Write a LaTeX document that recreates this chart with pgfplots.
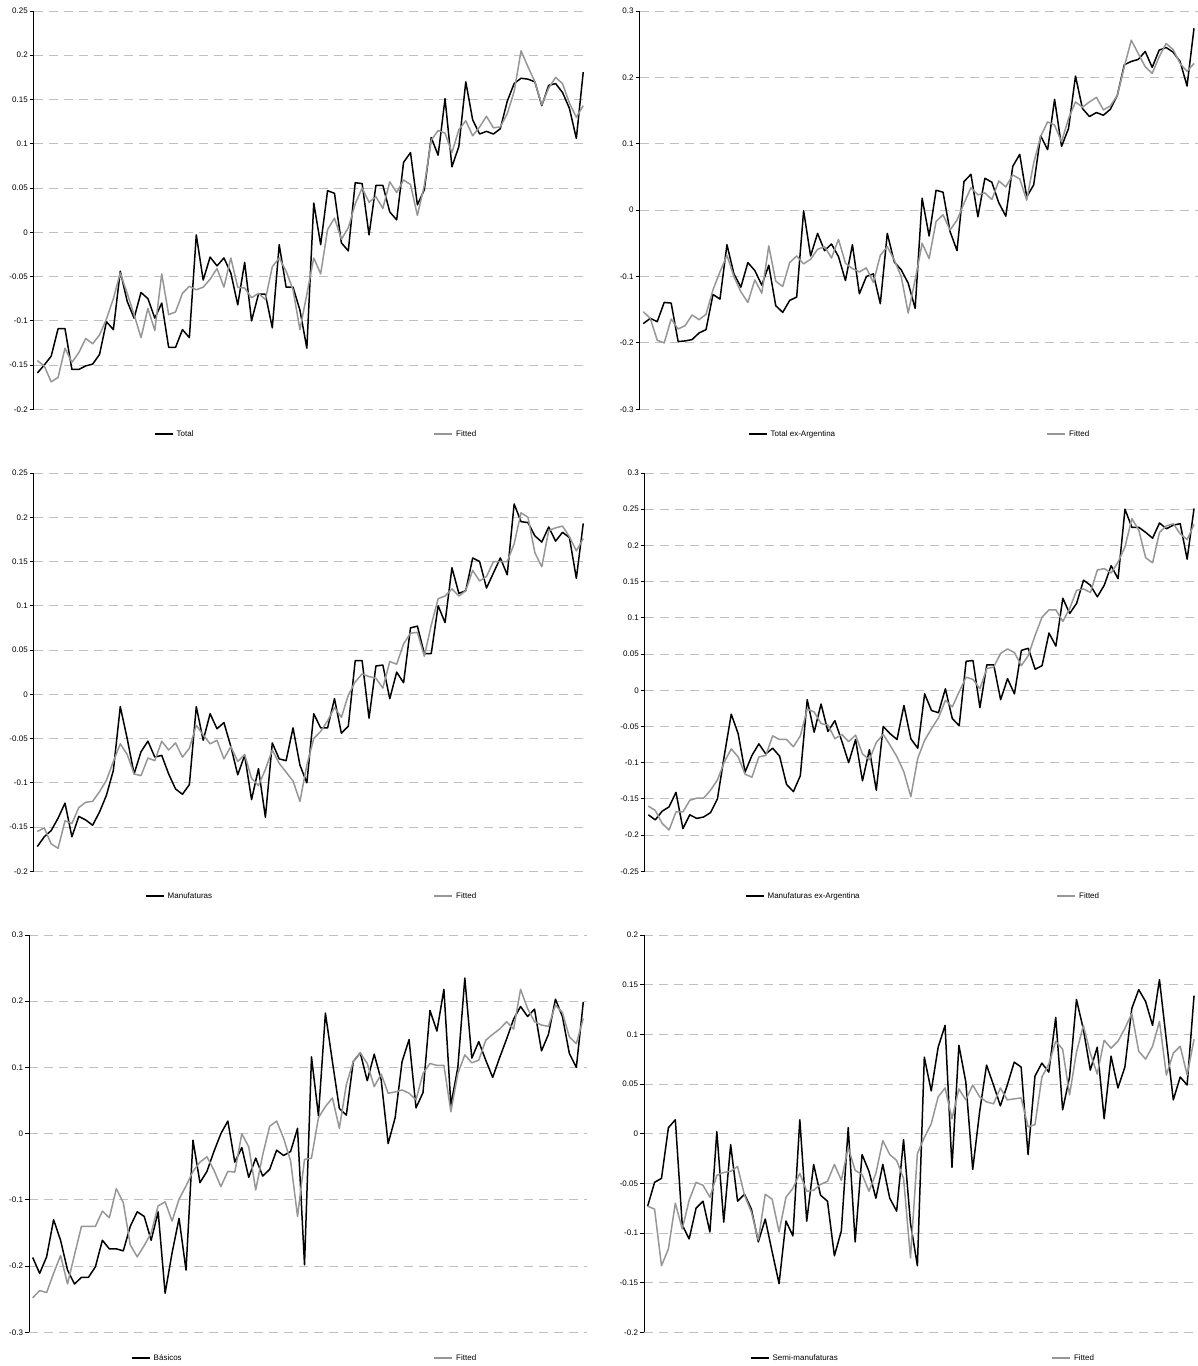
\documentclass[border=0pt]{standalone}
\usepackage{fontspec}
\setmainfont{Liberation Sans}
\usepackage{pgfplots}
\usepackage{pgfplotstable}
\pgfplotsset{compat=1.18}

\definecolor{fitgray}{RGB}{150,150,150}
\definecolor{gridgray}{RGB}{192,192,192}

% ---------- series (quarterly, 80 observations each) ----------
\pgfplotstableread[header=false,row sep=\\]{
-0.159\\-0.150\\-0.140\\-0.109\\-0.109\\-0.155\\-0.155\\-0.151\\-0.149\\-0.138\\
-0.101\\-0.110\\-0.044\\-0.078\\-0.097\\-0.068\\-0.075\\-0.097\\-0.080\\-0.130\\
-0.130\\-0.110\\-0.119\\-0.003\\-0.054\\-0.028\\-0.038\\-0.029\\-0.046\\-0.082\\
-0.034\\-0.100\\-0.070\\-0.070\\-0.108\\-0.014\\-0.062\\-0.062\\-0.088\\-0.131\\
0.033\\-0.014\\0.047\\0.044\\-0.012\\-0.021\\0.056\\0.055\\-0.003\\0.053\\
0.053\\0.023\\0.014\\0.079\\0.090\\0.031\\0.048\\0.107\\0.087\\0.151\\
0.074\\0.097\\0.170\\0.127\\0.111\\0.114\\0.111\\0.117\\0.148\\0.168\\
0.174\\0.173\\0.170\\0.143\\0.166\\0.168\\0.158\\0.140\\0.106\\0.181\\
}\totA
\pgfplotstableread[header=false,row sep=\\]{
-0.145\\-0.151\\-0.169\\-0.164\\-0.131\\-0.147\\-0.136\\-0.120\\-0.126\\-0.116\\
-0.098\\-0.075\\-0.046\\-0.069\\-0.093\\-0.119\\-0.086\\-0.111\\-0.047\\-0.093\\
-0.090\\-0.069\\-0.061\\-0.065\\-0.062\\-0.053\\-0.041\\-0.062\\-0.029\\-0.062\\
-0.063\\-0.074\\-0.069\\-0.076\\-0.039\\-0.029\\-0.044\\-0.065\\-0.110\\-0.070\\
-0.029\\-0.047\\0.003\\0.016\\-0.008\\0.005\\0.032\\0.050\\0.034\\0.040\\
0.027\\0.057\\0.045\\0.059\\0.054\\0.019\\0.053\\0.104\\0.115\\0.112\\
0.090\\0.116\\0.126\\0.109\\0.119\\0.131\\0.118\\0.119\\0.134\\0.159\\
0.205\\0.187\\0.170\\0.144\\0.163\\0.175\\0.168\\0.146\\0.130\\0.143\\
}\totF
\pgfplotstableread[header=false,row sep=\\]{
-0.171\\-0.163\\-0.168\\-0.139\\-0.140\\-0.198\\-0.197\\-0.195\\-0.185\\-0.180\\
-0.127\\-0.134\\-0.052\\-0.096\\-0.116\\-0.079\\-0.091\\-0.113\\-0.083\\-0.144\\
-0.154\\-0.136\\-0.131\\-0.001\\-0.069\\-0.035\\-0.061\\-0.051\\-0.070\\-0.106\\
-0.052\\-0.126\\-0.100\\-0.096\\-0.141\\-0.035\\-0.078\\-0.090\\-0.110\\-0.148\\
0.018\\-0.039\\0.030\\0.027\\-0.032\\-0.061\\0.043\\0.054\\-0.010\\0.048\\
0.042\\0.011\\-0.009\\0.066\\0.084\\0.020\\0.038\\0.112\\0.091\\0.167\\
0.096\\0.123\\0.202\\0.153\\0.141\\0.147\\0.143\\0.152\\0.173\\0.219\\
0.224\\0.227\\0.239\\0.215\\0.241\\0.245\\0.238\\0.224\\0.187\\0.274\\
}\exaA
\pgfplotstableread[header=false,row sep=\\]{
-0.153\\-0.163\\-0.196\\-0.200\\-0.164\\-0.179\\-0.174\\-0.158\\-0.165\\-0.157\\
-0.120\\-0.093\\-0.068\\-0.100\\-0.123\\-0.139\\-0.105\\-0.125\\-0.054\\-0.107\\
-0.115\\-0.079\\-0.069\\-0.081\\-0.074\\-0.059\\-0.055\\-0.072\\-0.044\\-0.080\\
-0.088\\-0.093\\-0.087\\-0.109\\-0.068\\-0.055\\-0.075\\-0.100\\-0.155\\-0.105\\
-0.050\\-0.073\\-0.017\\-0.007\\-0.030\\-0.015\\0.010\\0.034\\0.023\\0.026\\
0.016\\0.044\\0.035\\0.053\\0.047\\0.015\\0.071\\0.111\\0.133\\0.128\\
0.103\\0.138\\0.163\\0.155\\0.163\\0.170\\0.151\\0.157\\0.173\\0.216\\
0.256\\0.236\\0.216\\0.206\\0.231\\0.251\\0.242\\0.221\\0.209\\0.221\\
}\exaF
\pgfplotstableread[header=false,row sep=\\]{
-0.172\\-0.161\\-0.154\\-0.140\\-0.123\\-0.161\\-0.138\\-0.142\\-0.148\\-0.133\\
-0.114\\-0.086\\-0.014\\-0.050\\-0.090\\-0.065\\-0.053\\-0.071\\-0.069\\-0.090\\
-0.107\\-0.113\\-0.102\\-0.014\\-0.052\\-0.022\\-0.039\\-0.032\\-0.059\\-0.091\\
-0.069\\-0.119\\-0.084\\-0.139\\-0.055\\-0.073\\-0.075\\-0.038\\-0.080\\-0.100\\
-0.022\\-0.038\\-0.038\\-0.005\\-0.044\\-0.036\\0.038\\0.038\\-0.027\\0.032\\
0.033\\-0.005\\0.025\\0.013\\0.075\\0.077\\0.046\\0.046\\0.100\\0.081\\
0.143\\0.114\\0.117\\0.154\\0.150\\0.120\\0.137\\0.154\\0.135\\0.215\\
0.195\\0.194\\0.179\\0.172\\0.189\\0.173\\0.183\\0.177\\0.131\\0.193\\
}\manA
\pgfplotstableread[header=false,row sep=\\]{
-0.155\\-0.151\\-0.169\\-0.174\\-0.143\\-0.146\\-0.128\\-0.122\\-0.121\\-0.110\\
-0.097\\-0.076\\-0.056\\-0.068\\-0.090\\-0.092\\-0.072\\-0.075\\-0.053\\-0.063\\
-0.055\\-0.071\\-0.061\\-0.035\\-0.046\\-0.056\\-0.052\\-0.073\\-0.059\\-0.076\\
-0.068\\-0.095\\-0.103\\-0.085\\-0.063\\-0.078\\-0.088\\-0.098\\-0.121\\-0.080\\
-0.050\\-0.042\\-0.030\\-0.015\\-0.026\\-0.001\\0.014\\0.023\\0.020\\0.018\\
0.007\\0.037\\0.034\\0.057\\0.069\\0.070\\0.043\\0.078\\0.108\\0.111\\
0.119\\0.111\\0.117\\0.140\\0.128\\0.133\\0.150\\0.150\\0.150\\0.170\\
0.205\\0.200\\0.160\\0.144\\0.185\\0.188\\0.190\\0.178\\0.162\\0.176\\
}\manF
\pgfplotstableread[header=false,row sep=\\]{
-0.172\\-0.179\\-0.167\\-0.161\\-0.141\\-0.191\\-0.172\\-0.177\\-0.175\\-0.169\\
-0.150\\-0.090\\-0.033\\-0.060\\-0.113\\-0.090\\-0.074\\-0.088\\-0.080\\-0.091\\
-0.130\\-0.140\\-0.118\\-0.013\\-0.058\\-0.019\\-0.057\\-0.042\\-0.070\\-0.100\\
-0.068\\-0.125\\-0.082\\-0.138\\-0.050\\-0.060\\-0.068\\-0.021\\-0.067\\-0.080\\
-0.005\\-0.028\\-0.031\\0.002\\-0.039\\-0.049\\0.040\\0.041\\-0.024\\0.035\\
0.035\\-0.013\\0.016\\-0.005\\0.055\\0.058\\0.029\\0.034\\0.079\\0.061\\
0.127\\0.106\\0.120\\0.152\\0.145\\0.129\\0.145\\0.172\\0.154\\0.250\\
0.225\\0.225\\0.218\\0.210\\0.231\\0.223\\0.228\\0.230\\0.181\\0.251\\
}\mexA
\pgfplotstableread[header=false,row sep=\\]{
-0.160\\-0.166\\-0.184\\-0.193\\-0.168\\-0.168\\-0.152\\-0.149\\-0.149\\-0.138\\
-0.124\\-0.099\\-0.081\\-0.092\\-0.116\\-0.120\\-0.092\\-0.090\\-0.063\\-0.068\\
-0.068\\-0.078\\-0.063\\-0.026\\-0.030\\-0.046\\-0.048\\-0.067\\-0.061\\-0.071\\
-0.062\\-0.088\\-0.096\\-0.072\\-0.061\\-0.076\\-0.092\\-0.113\\-0.147\\-0.094\\
-0.069\\-0.053\\-0.038\\-0.014\\-0.023\\-0.002\\0.018\\0.015\\0.002\\0.030\\
0.032\\0.051\\0.057\\0.052\\0.034\\0.048\\0.076\\0.101\\0.111\\0.111\\
0.095\\0.113\\0.138\\0.140\\0.135\\0.166\\0.168\\0.162\\0.177\\0.198\\
0.237\\0.221\\0.183\\0.176\\0.218\\0.227\\0.230\\0.216\\0.208\\0.229\\
}\mexF
\pgfplotstableread[header=false,row sep=\\]{
-0.187\\-0.211\\-0.186\\-0.130\\-0.161\\-0.206\\-0.227\\-0.217\\-0.217\\-0.201\\
-0.161\\-0.174\\-0.174\\-0.177\\-0.140\\-0.118\\-0.125\\-0.161\\-0.118\\-0.241\\
-0.180\\-0.128\\-0.206\\-0.010\\-0.074\\-0.057\\-0.027\\0.000\\0.019\\-0.043\\
-0.021\\-0.066\\-0.037\\-0.064\\-0.054\\-0.025\\-0.033\\-0.027\\0.008\\-0.198\\
0.116\\0.027\\0.182\\0.109\\0.038\\0.028\\0.109\\0.122\\0.080\\0.120\\
0.081\\-0.015\\0.024\\0.109\\0.142\\0.039\\0.062\\0.186\\0.155\\0.218\\
0.043\\0.100\\0.235\\0.114\\0.139\\0.111\\0.085\\0.115\\0.143\\0.173\\
0.192\\0.177\\0.188\\0.125\\0.150\\0.203\\0.177\\0.121\\0.100\\0.199\\
}\basA
\pgfplotstableread[header=false,row sep=\\]{
-0.248\\-0.237\\-0.240\\-0.211\\-0.184\\-0.227\\-0.183\\-0.140\\-0.140\\-0.140\\
-0.117\\-0.127\\-0.083\\-0.104\\-0.168\\-0.186\\-0.169\\-0.150\\-0.109\\-0.103\\
-0.132\\-0.099\\-0.079\\-0.057\\-0.043\\-0.035\\-0.055\\-0.080\\-0.057\\-0.058\\
0.000\\-0.020\\-0.085\\-0.032\\0.011\\0.019\\-0.007\\-0.041\\-0.125\\-0.039\\
-0.037\\0.024\\0.041\\0.054\\0.008\\0.074\\0.109\\0.122\\0.106\\0.071\\
0.090\\0.061\\0.063\\0.066\\0.061\\0.051\\0.091\\0.106\\0.103\\0.103\\
0.033\\0.091\\0.119\\0.107\\0.111\\0.141\\0.150\\0.158\\0.169\\0.158\\
0.218\\0.189\\0.169\\0.164\\0.162\\0.194\\0.183\\0.146\\0.136\\0.174\\
}\basF
\pgfplotstableread[header=false,row sep=\\]{
-0.073\\-0.049\\-0.045\\0.006\\0.014\\-0.092\\-0.106\\-0.075\\-0.068\\-0.099\\
0.002\\-0.089\\-0.011\\-0.068\\-0.061\\-0.076\\-0.109\\-0.086\\-0.119\\-0.151\\
-0.088\\-0.103\\0.014\\-0.088\\-0.031\\-0.062\\-0.068\\-0.123\\-0.098\\0.006\\
-0.109\\-0.021\\-0.038\\-0.065\\-0.031\\-0.065\\-0.078\\-0.006\\-0.090\\-0.133\\
0.077\\0.043\\0.087\\0.109\\-0.034\\0.089\\0.052\\-0.036\\0.022\\0.069\\
0.049\\0.028\\0.049\\0.072\\0.067\\-0.021\\0.058\\0.071\\0.062\\0.117\\
0.024\\0.057\\0.135\\0.105\\0.064\\0.087\\0.015\\0.078\\0.046\\0.067\\
0.126\\0.145\\0.133\\0.109\\0.155\\0.094\\0.034\\0.057\\0.049\\0.139\\
}\semA
\pgfplotstableread[header=false,row sep=\\]{
-0.073\\-0.076\\-0.133\\-0.116\\-0.070\\-0.096\\-0.067\\-0.049\\-0.052\\-0.064\\
-0.042\\-0.039\\-0.038\\-0.033\\-0.062\\-0.079\\-0.107\\-0.061\\-0.066\\-0.099\\
-0.064\\-0.055\\-0.040\\-0.058\\-0.057\\-0.051\\-0.048\\-0.031\\-0.047\\-0.014\\
-0.037\\-0.041\\-0.058\\-0.040\\-0.007\\-0.021\\-0.027\\-0.045\\-0.125\\-0.020\\
-0.004\\0.010\\0.037\\0.046\\0.015\\0.045\\0.034\\0.049\\0.037\\0.032\\
0.030\\0.046\\0.034\\0.035\\0.036\\0.007\\0.009\\0.057\\0.070\\0.093\\
0.085\\0.039\\0.082\\0.109\\0.081\\0.060\\0.094\\0.086\\0.093\\0.106\\
0.121\\0.083\\0.075\\0.088\\0.113\\0.059\\0.081\\0.088\\0.059\\0.095\\
}\semF

\pgfplotsset{
  panel/.style={
    scale only axis,
    xmin=-0.5, xmax=79.5,
    axis x line=none,
    axis y line*=left,
    axis line style={black, line width=0.9pt},
    ymajorgrids,
    major grid style={gridgray, line width=0.9pt, dash pattern=on 9pt off 6pt},
    tick align=outside,
    major tick length=4pt,
    ytick style={black, line width=0.9pt},
    yticklabel style={font=\fontsize{8}{9.6}\selectfont, inner sep=2pt},
    legend columns=2,
    legend image code/.code={\draw[##1] (0pt,0pt) -- (18pt,0pt);},
    legend style={draw=none, fill=none, inner sep=0pt, anchor=west,
      font=\fontsize{8}{9.6}\selectfont, nodes={inner sep=0pt}, column sep=3pt},
  },
  actual/.style={black, line width=1.5pt, line join=round},
  fitted/.style={fitgray, line width=1.5pt, line join=round},
  scaleA/.style={ymin=-0.2, ymax=0.25,
    ytick={-0.2,-0.15,-0.1,-0.05,0,0.05,0.1,0.15,0.2,0.25},
    yticklabels={-0.2,-0.15,-0.1,-0.05,0,0.05,0.1,0.15,0.2,0.25}},
  scaleB/.style={ymin=-0.3, ymax=0.3,
    ytick={-0.3,-0.2,-0.1,0,0.1,0.2,0.3},
    yticklabels={-0.3,-0.2,-0.1,0,0.1,0.2,0.3}},
  scaleC/.style={ymin=-0.25, ymax=0.3,
    ytick={-0.25,-0.2,-0.15,-0.1,-0.05,0,0.05,0.1,0.15,0.2,0.25,0.3},
    yticklabels={-0.25,-0.2,-0.15,-0.1,-0.05,0,0.05,0.1,0.15,0.2,0.25,0.3}},
  scaleD/.style={ymin=-0.2, ymax=0.2,
    ytick={-0.2,-0.15,-0.1,-0.05,0,0.05,0.1,0.15,0.2},
    yticklabels={-0.2,-0.15,-0.1,-0.05,0,0.05,0.1,0.15,0.2}},
}

\begin{document}
\begin{tikzpicture}
\path[use as bounding box] (0pt,0pt) rectangle (1198pt,1366pt);

% Total
\begin{axis}[panel, scaleA, at={(33.9pt,956.7pt)}, anchor=south west,
  width=552.8pt, height=398.3pt,
  legend style={at={(axis description cs:0.2173,-0.062)}}]
\addplot[actual] table[x expr=\coordindex, y index=0] {\totA};
\addlegendentry{\makebox[254pt][l]{Total}}
\addplot[fitted] table[x expr=\coordindex, y index=0] {\totF};
\addlegendentry{Fitted}
\end{axis}

% Total ex-Argentina
\begin{axis}[panel, scaleB, at={(639.8pt,956.7pt)}, anchor=south west,
  width=557.7pt, height=398.3pt,
  legend style={at={(axis description cs:0.194,-0.062)}}]
\addplot[actual] table[x expr=\coordindex, y index=0] {\exaA};
\addlegendentry{\makebox[273pt][l]{Total ex-Argentina}}
\addplot[fitted] table[x expr=\coordindex, y index=0] {\exaF};
\addlegendentry{Fitted}
\end{axis}

% Manufaturas
\begin{axis}[panel, scaleA, at={(33.9pt,494.7pt)}, anchor=south west,
  width=552.8pt, height=398.3pt,
  legend style={at={(axis description cs:0.201,-0.062)}}]
\addplot[actual] table[x expr=\coordindex, y index=0] {\manA};
\addlegendentry{\makebox[263pt][l]{Manufaturas}}
\addplot[fitted] table[x expr=\coordindex, y index=0] {\manF};
\addlegendentry{Fitted}
\end{axis}

% Manufaturas ex-Argentina
\begin{axis}[panel, scaleC, at={(644.9pt,494.7pt)}, anchor=south west,
  width=552.6pt, height=398.3pt,
  legend style={at={(axis description cs:0.181,-0.062)}}]
\addplot[actual] table[x expr=\coordindex, y index=0] {\mexA};
\addlegendentry{\makebox[286pt][l]{Manufaturas ex-Argentina}}
\addplot[fitted] table[x expr=\coordindex, y index=0] {\mexF};
\addlegendentry{Fitted}
\end{axis}

% Basicos
\begin{axis}[panel, scaleB, at={(29.2pt,33.7pt)}, anchor=south west,
  width=557.6pt, height=397.3pt,
  legend style={at={(axis description cs:0.1826,-0.0647)}}]
\addplot[actual] table[x expr=\coordindex, y index=0] {\basA};
\addlegendentry{\makebox[277pt][l]{Básicos}}
\addplot[fitted] table[x expr=\coordindex, y index=0] {\basF};
\addlegendentry{Fitted}
\end{axis}

% Semi-manufaturas
\begin{axis}[panel, scaleD, at={(644.2pt,33.7pt)}, anchor=south west,
  width=553.3pt, height=397.3pt,
  legend style={at={(axis description cs:0.191,-0.0647)}}]
\addplot[actual] table[x expr=\coordindex, y index=0] {\semA};
\addlegendentry{\makebox[276pt][l]{Semi-manufaturas}}
\addplot[fitted] table[x expr=\coordindex, y index=0] {\semF};
\addlegendentry{Fitted}
\end{axis}
\end{tikzpicture}
\end{document}
